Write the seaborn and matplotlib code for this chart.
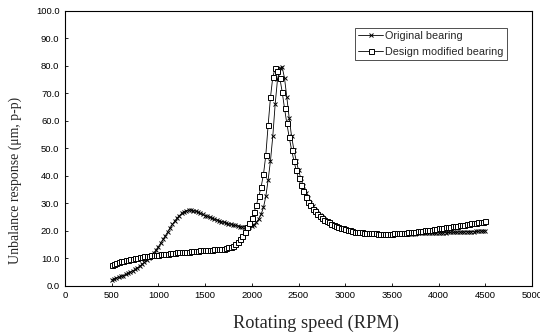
import matplotlib
matplotlib.use("Agg")
import matplotlib.pyplot as plt
import matplotlib.ticker as mticker
import seaborn as sns
import pandas as pd

# sample speeds (RPM)
speed = list(range(500, 4525, 25))

original = [
    2.2, 2.5, 2.8, 3.1, 3.4, 3.7, 4.1, 4.5,
    4.9, 5.4, 5.9, 6.5, 7.1, 7.8, 8.5, 9.2,
    10.0, 10.9, 11.9, 13.0, 14.2, 15.5, 16.8, 18.2,
    19.6, 21.0, 22.3, 23.5, 24.6, 25.5, 26.3, 26.9,
    27.3, 27.5, 27.5, 27.3, 27.0, 26.7, 26.3, 25.9,
    25.5, 25.2, 24.8, 24.5, 24.2, 23.9, 23.6, 23.3,
    23.0, 22.8, 22.5, 22.3, 22.1, 21.9, 21.7, 21.5,
    21.4, 21.3, 21.2, 21.3, 21.6, 22.2, 23.1, 24.3,
    26.0, 28.5, 32.5, 38.5, 45.5, 54.5, 66.0, 75.0,
    79.0, 79.5, 75.5, 68.5, 61.0, 54.5, 49.5, 45.5,
    42.0, 39.0, 36.3, 33.8, 31.8, 30.2, 28.8, 27.6,
    26.6, 25.7, 24.9, 24.2, 23.6, 23.1, 22.6, 22.2,
    21.8, 21.4, 21.1, 20.8, 20.5, 20.3, 20.1, 19.9,
    19.7, 19.6, 19.5, 19.4, 19.3, 19.2, 19.1, 19.0,
    19.0, 18.9, 18.9, 18.9, 18.8, 18.8, 18.8, 18.8,
    18.8, 18.8, 18.8, 18.8, 18.8, 18.8, 18.8, 18.9,
    18.9, 18.9, 18.9, 19.0, 19.0, 19.0, 19.0, 19.1,
    19.1, 19.1, 19.2, 19.2, 19.2, 19.3, 19.3, 19.3,
    19.4, 19.4, 19.4, 19.5, 19.5, 19.5, 19.6, 19.6,
    19.6, 19.7, 19.7, 19.7, 19.8, 19.8, 19.9, 19.9,
    20.0,
]

modified = [
    7.6, 7.9, 8.2, 8.5, 8.8, 9.0, 9.2, 9.4,
    9.6, 9.8, 10.0, 10.2, 10.4, 10.6, 10.7, 10.8,
    10.9, 11.0, 11.1, 11.2, 11.3, 11.4, 11.5, 11.6,
    11.7, 11.8, 11.9, 12.0, 12.1, 12.2, 12.2, 12.3,
    12.4, 12.4, 12.5, 12.6, 12.6, 12.7, 12.8, 12.8,
    12.9, 13.0, 13.0, 13.1, 13.2, 13.2, 13.3, 13.4,
    13.5, 13.7, 13.9, 14.2, 14.6, 15.2, 16.0, 17.0,
    18.2, 19.6, 21.2, 22.8, 24.5, 26.8, 29.5, 32.5,
    36.0, 40.5, 47.5, 58.5, 68.5, 76.0, 79.0, 78.0,
    75.5, 70.5, 64.5, 59.0, 54.0, 49.5, 45.5, 42.0,
    39.0, 36.5, 34.3, 32.3, 30.6, 29.2, 28.0, 27.0,
    26.1, 25.3, 24.6, 24.0, 23.5, 23.0, 22.6, 22.2,
    21.8, 21.4, 21.1, 20.8, 20.5, 20.3, 20.1, 19.9,
    19.7, 19.6, 19.5, 19.4, 19.3, 19.2, 19.1, 19.0,
    19.0, 19.0, 18.9, 18.9, 18.9, 18.9, 18.9, 18.9,
    18.9, 19.0, 19.0, 19.1, 19.1, 19.2, 19.3, 19.4,
    19.5, 19.6, 19.7, 19.8, 19.9, 20.0, 20.1, 20.2,
    20.3, 20.4, 20.6, 20.7, 20.8, 20.9, 21.1, 21.2,
    21.3, 21.4, 21.6, 21.7, 21.8, 22.0, 22.1, 22.2,
    22.4, 22.5, 22.7, 22.8, 22.9, 23.1, 23.2, 23.3,
    23.5,
]

series_names = ["Original bearing", "Design modified bearing"]
x_ticks = list(range(0, 5500, 500))
y_ticks = list(range(0, 110, 10))

sns.set_style("ticks")
plt.rcParams["font.family"] = ["Liberation Sans", "DejaVu Sans"]

fig = plt.figure(figsize=(5.4, 3.35), dpi=100)
ax = fig.add_axes([0.1204, 0.1472, 0.8648, 0.8209])

df_o = pd.DataFrame({"speed": speed, "resp": original})
df_d = pd.DataFrame({"speed": speed, "resp": modified})

sns.lineplot(data=df_o, x="speed", y="resp", ax=ax, color="black", lw=0.6,
             marker="x", markersize=3.4, markeredgewidth=0.7,
             markeredgecolor="black", label=series_names[0])
sns.lineplot(data=df_d, x="speed", y="resp", ax=ax, color="black", lw=0.6,
             marker="s", markersize=3.6, markeredgewidth=0.7,
             markerfacecolor="white", markeredgecolor="black",
             label=series_names[1])

ax.set_xlim(0, 5000)
ax.set_ylim(0, 100)
ax.set_xticks(x_ticks)
ax.set_yticks(y_ticks)
ax.yaxis.set_major_formatter(mticker.FormatStrFormatter("%.1f"))
ax.tick_params(direction="in", length=2.5, width=0.6, labelsize=6.8,
               colors="black", pad=4)
narrow = ["Liberation Sans Narrow", "Liberation Sans", "DejaVu Sans"]
for lab in ax.get_xticklabels() + ax.get_yticklabels():
    lab.set_family(narrow)

for s in ax.spines.values():
    s.set_visible(True)
    s.set_color("black")
    s.set_linewidth(0.8)

serif = ["Liberation Serif", "DejaVu Serif"]
ax.set_xlabel("Rotating speed (RPM)", family=serif, fontsize=13.2)
ax.set_ylabel("Unbalance response (\u03bcm, p-p)", family=serif, fontsize=9.9)
ax.xaxis.set_label_coords(0.537, -0.105)
ax.yaxis.set_label_coords(-0.093, 0.384)

leg = ax.legend(loc="upper right", bbox_to_anchor=(0.946, 0.937),
                borderaxespad=0, fontsize=7.8, frameon=True, fancybox=False,
                edgecolor="black", handlelength=2.3, handletextpad=0.2,
                borderpad=0.3, labelspacing=0.55)
leg.get_frame().set_linewidth(0.6)

fig.savefig("out.png", dpi=100)
